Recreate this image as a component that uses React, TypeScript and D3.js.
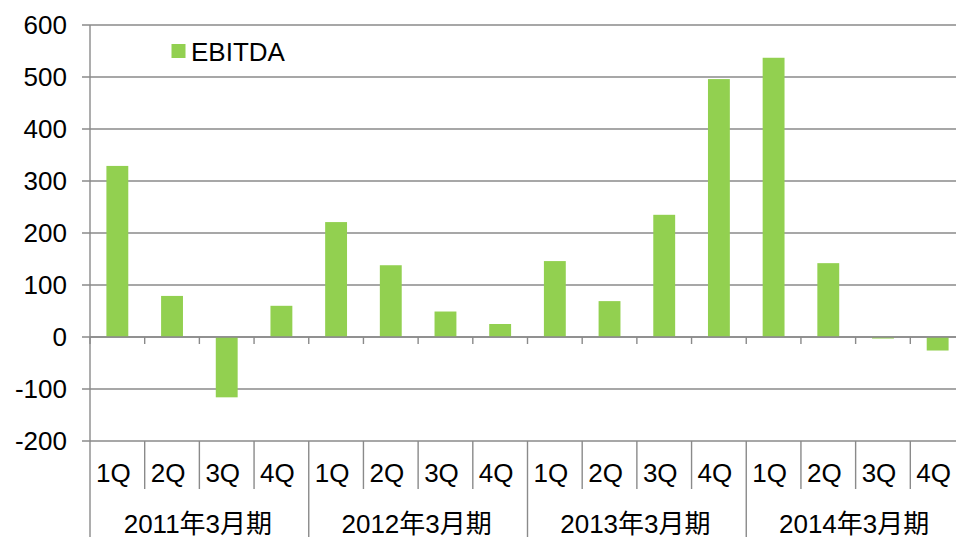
import React from "react";
import * as d3 from "d3";

const years: string[] = ["2011年3月期", "2012年3月期", "2013年3月期", "2014年3月期"];
const quarters: string[] = ["1Q", "2Q", "3Q", "4Q"];
const ebitda: number[] = [329, 79, -116, 60, 221, 138, 49, 25, 146, 69, 235, 496, 537, 142, -3, -26];
const yTicks: number[] = [-200, -100, 0, 100, 200, 300, 400, 500, 600];
const seriesName = "EBITDA";

const W = 956;
const H = 537;
const FONT = "'Liberation Sans', Arial, 'Noto Sans CJK JP', sans-serif";
const GRID = "#8a8a8a";
const BAR = "#92D050";
const FS = 26;

export default function App() {
  const left = 90;
  const right = 965;
  const y = d3.scaleLinear().domain([-200, 600]).range([441, 25]);
  const n = ebitda.length;
  const x = d3
    .scaleBand<number>()
    .domain(d3.range(n))
    .range([left, right])
    .paddingInner(0.6)
    .paddingOuter(0.3);
  const xb = d3.scaleLinear().domain([0, n]).range([left, right]);
  const y0 = y(0);
  const yBottom = y(-200);

  return (
    <div style={{ position: "fixed", left: 0, top: 0, width: W, height: H, background: "#fff" }}>
      <svg width={W} height={H} style={{ display: "block" }} fontFamily={FONT}>
        {/* gridlines */}
        {yTicks.map((t) => (
          <line key={"g" + t} x1={82} x2={W} y1={y(t)} y2={y(t)} stroke={GRID} strokeWidth={1.4} />
        ))}
        {/* y labels */}
        {yTicks.map((t) => (
          <text key={"l" + t} x={67} y={y(t)} dy="0.36em" textAnchor="end" fontSize={FS} fill="#000">
            {t}
          </text>
        ))}
        {/* bars */}
        {ebitda.map((v, i) => (
          <rect
            key={"b" + i}
            x={x(i)}
            width={x.bandwidth()}
            y={Math.min(y(v), y0)}
            height={Math.abs(y(v) - y0)}
            fill={BAR}
          />
        ))}
        {/* y axis line */}
        <line x1={left} x2={left} y1={y(600)} y2={H} stroke={GRID} strokeWidth={1.4} />
        {/* zero axis line */}
        <line x1={left} x2={W} y1={y0} y2={y0} stroke={GRID} strokeWidth={1.4} />
        {/* tick marks at zero axis */}
        {d3.range(n + 1).map((i) => (
          <line key={"t" + i} x1={xb(i)} x2={xb(i)} y1={y0} y2={y0 + 7} stroke={GRID} strokeWidth={1.4} />
        ))}
        {/* category separators */}
        {d3.range(1, n + 1).map((i) => (
          <line
            key={"s" + i}
            x1={xb(i)}
            x2={xb(i)}
            y1={yBottom}
            y2={i % 4 === 0 ? H : 489}
            stroke={GRID}
            strokeWidth={1.4}
          />
        ))}
        {/* quarter labels */}
        {ebitda.map((_, i) => (
          <text
            key={"q" + i}
            x={xb(i + 0.5) - 4}
            y={481.5}
            textAnchor="middle"
            fontSize={FS}
            fill="#000"
          >
            {quarters[i % 4]}
          </text>
        ))}
        {/* year labels */}
        {years.map((yr, k) => (
          <text key={"y" + k} x={xb(k * 4 + 2) - 1.5} y={532.5} textAnchor="middle" fontSize={FS} fill="#000">
            {yr}
          </text>
        ))}
        {/* legend */}
        <rect x={171.5} y={44} width={14} height={14} fill={BAR} />
        <text x={191} y={60.7} fontSize={FS} fill="#000">
          {seriesName}
        </text>
      </svg>
    </div>
  );
}
